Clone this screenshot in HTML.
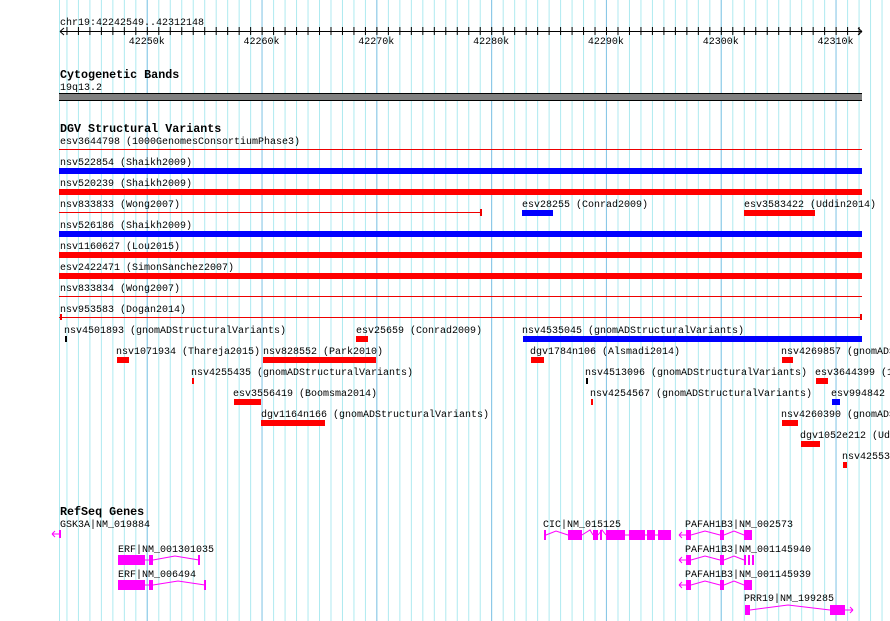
<!DOCTYPE html>
<html><head><meta charset="utf-8"><style>
html,body{margin:0;padding:0;background:#fff;}
svg{display:block;}
text{font-family:"Liberation Mono","DejaVu Sans Mono",monospace;font-size:10px;fill:#000;}
.b{font-weight:bold;font-size:11.7px;}
</style></head><body>
<svg width="890" height="621" viewBox="0 0 890 621" xmlns="http://www.w3.org/2000/svg">
<defs>
<pattern id="minor" patternUnits="userSpaceOnUse" x="9.05" y="0" width="11.48" height="621">
<rect x="0" y="0" width="1" height="621" fill="#aeeaf0"/>
</pattern>
<pattern id="major" patternUnits="userSpaceOnUse" x="31.9" y="0" width="114.8" height="621">
<rect x="0" y="0" width="1" height="621" fill="#86c4e6"/>
</pattern>
<pattern id="tick" patternUnits="userSpaceOnUse" x="9.05" y="0" width="11.48" height="621">
<rect x="0" y="27" width="1" height="8" fill="#000"/>
</pattern>
</defs>
<rect x="59" y="0" width="831" height="621" fill="url(#minor)"/>
<rect x="59" y="0" width="831" height="621" fill="url(#major)"/>
<rect x="59" y="0" width="1" height="621" fill="#aeeaf0"/>

<!-- ruler -->
<text x="60" y="25">chr19:42242549..42312148</text>
<rect x="60" y="31" width="802" height="1" fill="#000"/>
<rect x="62" y="27" width="798" height="8" fill="url(#tick)"/>
<path d="M60 31.5 L64 28 M60 31.5 L64 35 M862 31.5 L858 28 M862 31.5 L858 35" stroke="#000" stroke-width="1"/>
<text x="146.7" y="44" text-anchor="middle">42250k</text>
<text x="261.5" y="44" text-anchor="middle">42260k</text>
<text x="376.3" y="44" text-anchor="middle">42270k</text>
<text x="491.1" y="44" text-anchor="middle">42280k</text>
<text x="605.9" y="44" text-anchor="middle">42290k</text>
<text x="720.7" y="44" text-anchor="middle">42300k</text>
<text x="835.5" y="44" text-anchor="middle">42310k</text>

<!-- cytoband -->
<text class="b" x="60" y="78">Cytogenetic Bands</text>
<text x="60" y="90">19q13.2</text>
<rect x="59" y="93" width="803" height="7" fill="#808080"/>
<rect x="59" y="93" width="803" height="1" fill="#000"/>
<rect x="59" y="100" width="803" height="1" fill="#000"/>

<!-- DGV -->
<text class="b" x="60" y="132">DGV Structural Variants</text>
<text x="60" y="144">esv3644798 (1000GenomesConsortiumPhase3)</text>
<rect x="59" y="149" width="803" height="1" fill="#e00"/>
<text x="60" y="165">nsv522854 (Shaikh2009)</text>
<rect x="59" y="168" width="803" height="6" fill="#00f"/>
<text x="60" y="186">nsv520239 (Shaikh2009)</text>
<rect x="59" y="189" width="803" height="6" fill="#f00"/>
<text x="60" y="207">nsv833833 (Wong2007)</text>
<rect x="59" y="212" width="422" height="1" fill="#e00"/>
<rect x="480" y="209" width="2" height="7" fill="#e00"/>
<text x="522" y="207">esv28255 (Conrad2009)</text>
<rect x="522" y="210" width="31" height="6" fill="#00f"/>
<text x="744" y="207">esv3583422 (Uddin2014)</text>
<rect x="744" y="210" width="71" height="6" fill="#f00"/>
<text x="60" y="228">nsv526186 (Shaikh2009)</text>
<rect x="59" y="231" width="803" height="6" fill="#00f"/>
<text x="60" y="249">nsv1160627 (Lou2015)</text>
<rect x="59" y="252" width="803" height="6" fill="#f00"/>
<text x="60" y="270">esv2422471 (SimonSanchez2007)</text>
<rect x="59" y="273" width="803" height="6" fill="#f00"/>
<text x="60" y="291">nsv833834 (Wong2007)</text>
<rect x="59" y="296" width="803" height="1" fill="#e00"/>
<text x="60" y="312">nsv953583 (Dogan2014)</text>
<rect x="59" y="317" width="803" height="1" fill="#e00"/>
<rect x="60" y="314" width="2" height="6" fill="#e00"/>
<rect x="860" y="314" width="2" height="6" fill="#e00"/>

<text x="64" y="333">nsv4501893 (gnomADStructuralVariants)</text>
<rect x="65" y="336" width="2" height="6" fill="#000"/>
<text x="356" y="333">esv25659 (Conrad2009)</text>
<rect x="356" y="336" width="12" height="6" fill="#f00"/>
<text x="522" y="333">nsv4535045 (gnomADStructuralVariants)</text>
<rect x="523" y="336" width="339" height="6" fill="#00f"/>

<text x="116" y="354">nsv1071934 (Thareja2015)</text>
<rect x="117" y="357" width="12" height="6" fill="#f00"/>
<text x="263" y="354">nsv828552 (Park2010)</text>
<rect x="263" y="357" width="113" height="6" fill="#f00"/>
<text x="530" y="354">dgv1784n106 (Alsmadi2014)</text>
<rect x="531" y="357" width="13" height="6" fill="#f00"/>
<text x="781" y="354">nsv4269857 (gnomADStructuralVariants)</text>
<rect x="782" y="357" width="11" height="6" fill="#f00"/>

<text x="191" y="375">nsv4255435 (gnomADStructuralVariants)</text>
<rect x="192" y="378" width="2" height="6" fill="#f00"/>
<text x="585" y="375">nsv4513096 (gnomADStructuralVariants)</text>
<rect x="586" y="378" width="2" height="6" fill="#000"/>
<text x="815" y="375">esv3644399 (1000GenomesConsortiumPhase3)</text>
<rect x="816" y="378" width="12" height="6" fill="#f00"/>

<text x="233" y="396">esv3556419 (Boomsma2014)</text>
<rect x="234" y="399" width="27" height="6" fill="#f00"/>
<text x="590" y="396">nsv4254567 (gnomADStructuralVariants)</text>
<rect x="591" y="399" width="2" height="6" fill="#f00"/>
<text x="831" y="396">esv994842 (Suktitipat2014)</text>
<rect x="832" y="399" width="8" height="6" fill="#00f"/>

<text x="261" y="417">dgv1164n166 (gnomADStructuralVariants)</text>
<rect x="261" y="420" width="64" height="6" fill="#f00"/>
<text x="781" y="417">nsv4260390 (gnomADStructuralVariants)</text>
<rect x="782" y="420" width="16" height="6" fill="#f00"/>

<text x="800" y="438">dgv1052e212 (Uddin2014)</text>
<rect x="801" y="441" width="19" height="6" fill="#f00"/>

<text x="842" y="459">nsv4255321 (gnomADStructuralVariants)</text>
<rect x="843" y="462" width="4" height="6" fill="#f00"/>

<!-- RefSeq -->
<text class="b" x="60" y="515">RefSeq Genes</text>
<text x="60" y="527">GSK3A|NM_019884</text>
<path d="M52 534 H60 M52 534 L55 531 M52 534 L55 537" stroke="#f0f" fill="none"/>
<rect x="59" y="530" width="2" height="8" fill="#f0f"/>

<text x="118" y="552">ERF|NM_001301035</text>
<rect x="118" y="555" width="27" height="10" fill="#f0f"/>
<rect x="149" y="555" width="4" height="10" fill="#f0f"/>
<path d="M145 560 H149 M153 560 L175 556 L199 560" stroke="#f0f" fill="none"/>
<rect x="198" y="555" width="2" height="10" fill="#f0f"/>

<text x="118" y="577">ERF|NM_006494</text>
<rect x="118" y="580" width="27" height="10" fill="#f0f"/>
<rect x="149" y="580" width="4" height="10" fill="#f0f"/>
<path d="M145 585 H149 M153 585 L178 581 L205 585" stroke="#f0f" fill="none"/>
<rect x="204" y="580" width="2" height="10" fill="#f0f"/>

<text x="543" y="527">CIC|NM_015125</text>
<rect x="544" y="530" width="2" height="10" fill="#f0f"/>
<path d="M546 535 L556 531 L568 535 M582 535 L590 530 L593 535 M598 535 L602 530 L606 535 M625 535 H629 M645 535 H647 M655 535 H658" stroke="#f0f" fill="none"/>
<rect x="568" y="530" width="14" height="10" fill="#f0f"/>
<rect x="593" y="530" width="5" height="10" fill="#f0f"/>
<rect x="600" y="530" width="2" height="10" fill="#f0f"/>
<rect x="606" y="530" width="19" height="10" fill="#f0f"/>
<rect x="629" y="530" width="16" height="10" fill="#f0f"/>
<rect x="647" y="530" width="8" height="10" fill="#f0f"/>
<rect x="658" y="530" width="13" height="10" fill="#f0f"/>

<g fill="#f0f" stroke="#f0f">
<text x="685" y="527" fill="#000" stroke="none">PAFAH1B3|NM_002573</text>
<path d="M679 535 H686 M679 535 L682 532 M679 535 L682 538 M691 535 L705 531 L720 535 M724 535 L734 531 L744 535" fill="none"/>
<rect x="686" y="530" width="5" height="10" stroke="none"/>
<rect x="720" y="530" width="4" height="10" stroke="none"/>
<rect x="744" y="530" width="8" height="10" stroke="none"/>

<text x="685" y="552" fill="#000" stroke="none">PAFAH1B3|NM_001145940</text>
<path d="M679 560 H686 M679 560 L682 557 M679 560 L682 563 M691 560 L705 556 L720 560 M724 560 L734 556 L744 560" fill="none"/>
<rect x="686" y="555" width="5" height="10" stroke="none"/>
<rect x="720" y="555" width="4" height="10" stroke="none"/>
<rect x="744" y="555" width="2" height="10" stroke="none"/>
<rect x="748" y="555" width="2" height="10" stroke="none"/>
<rect x="752" y="555" width="2" height="10" stroke="none"/>

<text x="685" y="577" fill="#000" stroke="none">PAFAH1B3|NM_001145939</text>
<path d="M679 585 H686 M679 585 L682 582 M679 585 L682 588 M691 585 L705 581 L720 585 M724 585 L734 581 L744 585" fill="none"/>
<rect x="686" y="580" width="5" height="10" stroke="none"/>
<rect x="720" y="580" width="4" height="10" stroke="none"/>
<rect x="744" y="580" width="8" height="10" stroke="none"/>

<text x="744" y="601" fill="#000" stroke="none">PRR19|NM_199285</text>
<rect x="745" y="605" width="5" height="10" stroke="none"/>
<path d="M750 610 L788 605 L830 610 M845 610 H853 M853 610 L850 607 M853 610 L850 613" fill="none"/>
<rect x="830" y="605" width="15" height="10" stroke="none"/>
</g>
</svg>
</body></html>
